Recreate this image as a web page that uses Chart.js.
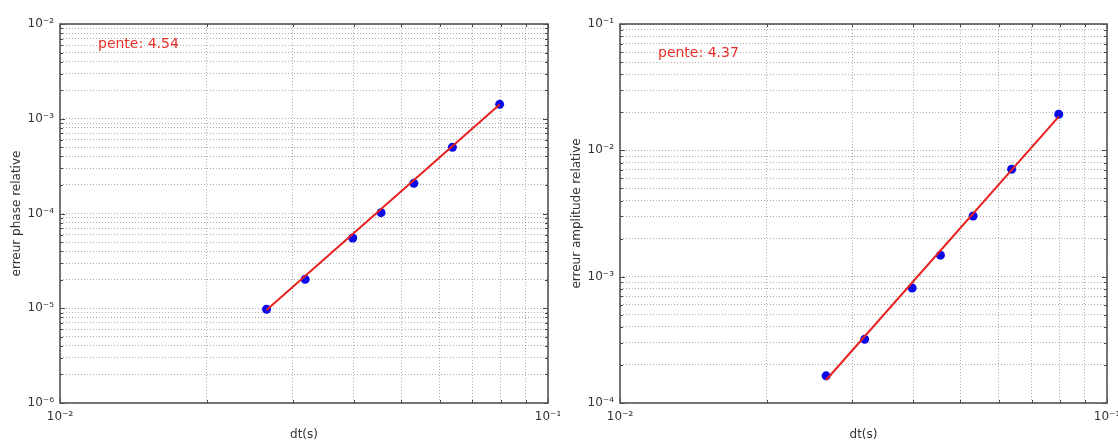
<!DOCTYPE html>
<html><head><meta charset="utf-8">
<script src="https://cdn.jsdelivr.net/npm/chart.js@4.4.0/dist/chart.umd.min.js"></script>
<style>
html,body{margin:0;padding:0;background:#fff;}
#wrap{position:relative;width:1118px;height:442px;overflow:hidden;background:#fff;}
canvas{position:absolute;top:0;}
</style></head><body>
<div id="wrap">
<canvas id="c1" width="560" height="442" style="left:0px"></canvas>
<canvas id="c2" width="558" height="442" style="left:560px"></canvas>
</div>
<script>
// ---- data ----
const dt = [0.0265, 0.0318, 0.0398, 0.0455, 0.0531, 0.0637, 0.0796];
const phaseErr = [9.75e-6, 2.02e-5, 5.51e-5, 1.02e-4, 2.08e-4, 5.0e-4, 1.42e-3];
const amplErr = [1.64e-4, 3.19e-4, 8.13e-4, 1.48e-3, 3.02e-3, 7.08e-3, 1.93e-2];
const fitDt = [0.0265, 0.0796];
const phaseFit = [9.6e-6, 1.41e-3];
const amplFit = [1.52e-4, 1.85e-2];
const slopeText = ['pente: 4.54', 'pente: 4.37'];

// ---- axes / ticks ----
const xMajor = [0.01, 0.1];
const xMajorLabels = ['10\u207B\u00B2', '10\u207B\u00B9'];
const phaseMajor = [1e-6, 1e-5, 1e-4, 1e-3, 1e-2];
const phaseMajorLabels = ['10\u207B\u2076', '10\u207B\u2075', '10\u207B\u2074', '10\u207B\u00B3', '10\u207B\u00B2'];
const amplMajor = [1e-4, 1e-3, 1e-2, 1e-1];
const amplMajorLabels = ['10\u207B\u2074', '10\u207B\u00B3', '10\u207B\u00B2', '10\u207B\u00B9'];
const minorMantissas = [2, 3, 4, 5, 6, 7, 8, 9];
const xTitle = 'dt(s)';
const yTitles = ['erreur phase relative', 'erreur amplitude relative'];

function withMinors(majors) {
  const out = [];
  majors.forEach((m, i) => {
    out.push(m);
    if (i < majors.length - 1) minorMantissas.forEach(k => out.push(k * m));
  });
  return out;
}
function isMajor(v, majors) {
  return majors.some(m => Math.abs(v - m) / m < 1e-6);
}
function labelFor(v, majors, labels) {
  for (let i = 0; i < majors.length; i++) {
    if (Math.abs(v - majors[i]) / majors[i] < 1e-6) return labels[i];
  }
  return '';
}

const FONT = 'DejaVu Sans';
Chart.defaults.font.family = FONT;

const framePlugin = {
  id: 'frame',
  afterDraw(chart) {
    const {ctx, chartArea: a, scales} = chart;
    const ym = chart.options.plugins.frame.yMajor;
    ctx.save();
    ctx.strokeStyle = '#444';
    ctx.lineWidth = 1;
    ctx.beginPath();
    scales.x.ticks.forEach(t => {
      const px = Math.round(scales.x.getPixelForValue(t.value)) + 0.5;
      const len = isMajor(t.value, xMajor) ? 5 : 3;
      ctx.moveTo(px, a.bottom); ctx.lineTo(px, a.bottom - len);
      ctx.moveTo(px, a.top); ctx.lineTo(px, a.top + len);
    });
    scales.y.ticks.forEach(t => {
      const py = Math.round(scales.y.getPixelForValue(t.value)) + 0.5;
      const len = isMajor(t.value, ym) ? 5 : 3;
      ctx.moveTo(a.left, py); ctx.lineTo(a.left + len, py);
      ctx.moveTo(a.right, py); ctx.lineTo(a.right - len, py);
    });
    ctx.stroke();
    ctx.strokeStyle = '#555';
    ctx.lineWidth = 1.6;
    ctx.strokeRect(a.left, a.top, a.right - a.left, a.bottom - a.top);
    ctx.restore();
  }
};
const slopePlugin = {
  id: 'slope',
  afterDraw(chart) {
    const o = chart.options.plugins.slope;
    const {ctx} = chart;
    ctx.save();
    ctx.fillStyle = '#e8302a';
    ctx.font = '14px "' + FONT + '"';
    ctx.textBaseline = 'middle';
    ctx.textAlign = 'left';
    ctx.fillText(o.text, o.x, o.y);
    ctx.restore();
  }
};

function makeChart(id, xs, ys, fx, fy, yMajor, yLabels, yTitle, slope, slopeY, rightPad) {
  const yTicks = withMinors(yMajor);
  const xTicks = withMinors(xMajor);
  return new Chart(document.getElementById(id), {
    type: 'scatter',
    data: {
      datasets: [
        { data: fx.map((x, i) => ({x, y: fy[i]})), showLine: true, borderColor: '#e82020',
          borderWidth: 2, pointRadius: 0, fill: false },
        { data: xs.map((x, i) => ({x, y: ys[i]})), backgroundColor: '#0a0ae8', borderColor: '#0a0ae8',
          pointRadius: 4.5, borderWidth: 0 }
      ]
    },
    options: {
      responsive: false, animation: false, devicePixelRatio: 1,
      layout: { padding: { top: 24, right: rightPad, left: 0, bottom: 0 } },
      plugins: {
        legend: { display: false }, tooltip: { enabled: false },
        frame: { yMajor },
        slope: { text: slope, x: 98, y: slopeY }
      },
      scales: {
        x: {
          type: 'logarithmic', position: 'bottom', min: xMajor[0], max: xMajor[xMajor.length - 1],
          afterBuildTicks: s => { s.ticks = xTicks.map(v => ({value: v})); },
          afterFit: s => { s.height = 39; s.paddingLeft = 0; s.paddingRight = 0; },
          ticks: { autoSkip: false, maxRotation: 0, padding: 7, color: '#333', font: { size: 12 },
                   callback: v => labelFor(v, xMajor, xMajorLabels) },
          grid: { color: 'rgba(0,0,0,0.32)', lineWidth: 1, drawTicks: false },
          border: { display: false, dash: [1, 2] },
          title: { display: true, text: xTitle, color: '#333', font: { size: 12 }, padding: { top: 0, bottom: 0 } }
        },
        y: {
          type: 'logarithmic', position: 'left', min: yMajor[0], max: yMajor[yMajor.length - 1],
          afterBuildTicks: s => { s.ticks = yTicks.map(v => ({value: v})); },
          afterFit: s => { s.width = 60; s.paddingTop = 0; s.paddingBottom = 0; },
          ticks: { autoSkip: false, padding: 6, color: '#333', font: { size: 12 },
                   callback: v => labelFor(v, yMajor, yLabels) },
          grid: { color: 'rgba(0,0,0,0.32)', lineWidth: 1, drawTicks: false },
          border: { display: false, dash: [1, 2] },
          title: { display: true, text: yTitle, color: '#333', font: { size: 12 }, padding: { top: 10, bottom: 0 } }
        }
      }
    },
    plugins: [framePlugin, slopePlugin]
  });
}

makeChart('c1', dt, phaseErr, fitDt, phaseFit, phaseMajor, phaseMajorLabels, yTitles[0], slopeText[0], 44, 12);
makeChart('c2', dt, amplErr, fitDt, amplFit, amplMajor, amplMajorLabels, yTitles[1], slopeText[1], 53, 11);
</script>
</body></html>
